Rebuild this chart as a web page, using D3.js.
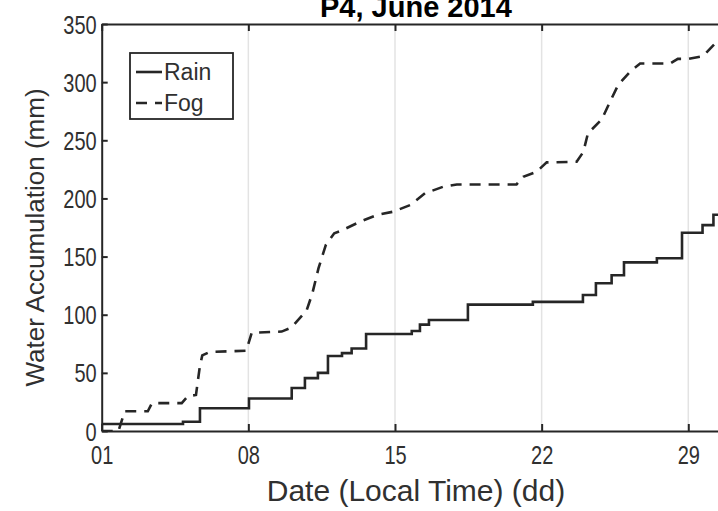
<!DOCTYPE html>
<html>
<head>
<meta charset="utf-8">
<script src="https://cdn.jsdelivr.net/npm/d3@7/dist/d3.min.js"></script>
<style>
  html, body { margin: 0; padding: 0; background: #fff; }
  svg { display: block; font-family: "Liberation Sans", Arial, Helvetica, sans-serif; }
</style>
</head>
<body>
<svg id="chart" width="718" height="511"></svg>
<script>
// ---- data (day of June, fractional; accumulated mm) ----
const rainDays   = [1.0, 4.88, 5.69, 8.03, 10.07, 10.7, 11.32, 11.8, 12.47, 12.93, 13.62, 15.8, 16.19, 16.62, 18.48, 21.58, 23.97, 24.59, 25.34, 25.93, 27.5, 28.7, 29.68, 30.2, 30.6];
const rainValues = [6,   8,    19.5, 28,   37,    45.5, 50,    64.5, 67,    71,    83.4,  86,   91.5,  95.4,  108.7, 111,   117,   127,   134,   145,   148.5, 170.5, 177, 186, 190];

const fogDays   = [1.0, 1.8, 2.1, 3.2, 3.4, 4.82, 5.12, 5.5, 5.68, 5.8, 6.15, 7.9, 8.16, 9.59, 10.05, 10.6, 10.75, 11.05, 11.35, 11.7, 12.1, 12.4, 13.33, 14.13, 14.92, 15.72, 16.43, 17.29, 17.95, 20.8, 21.12, 21.76, 22.24, 23.67, 23.99, 24.21, 24.87, 25.26, 25.65, 26.22, 26.7, 28.13, 28.5, 28.99, 29.7, 30.27, 30.6];
const fogValues = [0,   0,   17,  17,  24,  24,   30,   31,  55,   65,  68,   69,  84.5, 85.5, 89,    100,  102,   118,   140,   160,  170,  172,  180,   185.7, 188.6, 194.3, 204.4, 210,   212,   212,  218.6, 223,   231,   231.5, 240,   256,   268,   283,   297.5, 309,   316,  316,   320,  320,   322.4, 333,  338];

const xTickValues = [1, 8, 15, 22, 29];
const xTickLabels = ["01", "08", "15", "22", "29"];
const yTickValues = [0, 50, 100, 150, 200, 250, 300, 350];

const titleText = "P4, June 2014";
const xLabelText = "Date (Local Time) (dd)";
const yLabelText = "Water Accumulation (mm)";
const legendNames = ["Rain", "Fog"];

// ---- layout ----
const svg = d3.select("#chart");
const mLeft = 101.7, mTop = 24, mBottom = 431;
const pxPerDay = 20.95;
const mRight = mLeft + 30 * pxPerDay;
const ink = "#262626";
const squeeze = 0.8;

const x = d3.scaleLinear().domain([1, 31]).range([mLeft, mRight]);
const y = d3.scaleLinear().domain([0, 350]).range([mBottom, mTop]);

svg.append("rect").attr("width", 718).attr("height", 511).attr("fill", "#fff");

// grid
svg.append("g").selectAll("line").data(xTickValues.slice(1)).join("line")
  .attr("x1", d => x(d)).attr("x2", d => x(d))
  .attr("y1", mTop).attr("y2", mBottom)
  .attr("stroke", "#e3e3e3").attr("stroke-width", 1.5);

// data lines
svg.append("clipPath").attr("id", "clip").append("rect")
  .attr("x", mLeft).attr("y", mTop).attr("width", mRight - mLeft).attr("height", mBottom - mTop);

const rain = rainDays.map((d, i) => [d, rainValues[i]]);
const fog = fogDays.map((d, i) => [d, fogValues[i]]);

const rainLine = d3.line().x(d => x(d[0])).y(d => y(d[1])).curve(d3.curveStepAfter);
const fogLine = d3.line().x(d => x(d[0])).y(d => y(d[1]));

const plot = svg.append("g").attr("clip-path", "url(#clip)");
plot.append("path").datum([[1, 0]].concat(rain)).attr("d", rainLine)
  .attr("fill", "none").attr("stroke", ink).attr("stroke-width", 2.6);
plot.append("path").datum(fog).attr("d", fogLine)
  .attr("fill", "none").attr("stroke", ink).attr("stroke-width", 2.6)
  .attr("stroke-dasharray", "11,8");

// axes
const xAxisB = d3.axisBottom(x).tickValues(xTickValues).tickFormat((d, i) => xTickLabels[i])
  .tickSizeInner(-7).tickSizeOuter(0).tickPadding(15);
const gx = svg.append("g").attr("transform", `translate(0,${mBottom})`).call(xAxisB);
const xAxisT = d3.axisTop(x).tickValues(xTickValues).tickFormat("")
  .tickSizeInner(-7).tickSizeOuter(0);
const gt = svg.append("g").attr("transform", `translate(0,${mTop})`).call(xAxisT);
const yAxis = d3.axisLeft(y).tickValues(yTickValues).tickFormat(d3.format("d"))
  .tickSizeInner(-6).tickSizeOuter(0).tickPadding(5);
const gy = svg.append("g").attr("transform", `translate(${mLeft},0)`).call(yAxis);

[gx, gt, gy].forEach(g => {
  g.select(".domain").attr("stroke", ink).attr("stroke-width", 2);
  g.selectAll(".tick line").attr("stroke", ink).attr("stroke-width", 2);
  g.selectAll(".tick text").attr("fill", "#303030").attr("font-size", 25)
    .attr("font-family", "Liberation Sans, Arial, sans-serif");
});
gx.selectAll(".tick text").attr("dy", "0.71em").attr("transform", `scale(${squeeze},1)`);
gy.selectAll(".tick text").attr("x", -5 / squeeze).attr("dy", "0.36em")
  .attr("transform", `scale(${squeeze},1)`);

// title (cut off at the top, as in the reference crop)
svg.append("text").attr("x", (mLeft + mRight) / 2).attr("y", 17)
  .attr("text-anchor", "middle").attr("font-size", 29).attr("font-weight", "bold")
  .attr("fill", "#000").text(titleText);

// axis labels
svg.append("text").attr("x", (mLeft + mRight) / 2).attr("y", 501)
  .attr("text-anchor", "middle").attr("font-size", 30).attr("fill", "#303030").text(xLabelText);
svg.append("text").attr("transform", `translate(44,${(mTop + mBottom) / 2 + 10}) rotate(-90)`)
  .attr("text-anchor", "middle").attr("font-size", 26).attr("fill", "#303030").text(yLabelText);

// legend
const lg = svg.append("g");
lg.append("rect").attr("x", 130).attr("y", 53).attr("width", 103).attr("height", 66)
  .attr("fill", "#fff").attr("stroke", ink).attr("stroke-width", 1.8);
const legendDash = [null, "11,8"];
legendNames.forEach((name, i) => {
  const ly = 72 + i * 31;
  lg.append("line").attr("x1", 136).attr("x2", 162).attr("y1", ly).attr("y2", ly)
    .attr("stroke", ink).attr("stroke-width", 2.6)
    .attr("stroke-dasharray", legendDash[i]);
  lg.append("text").attr("x", 164).attr("y", ly).attr("dy", "0.36em")
    .attr("font-size", 23).attr("fill", "#303030").text(name);
});
</script>
</body>
</html>
